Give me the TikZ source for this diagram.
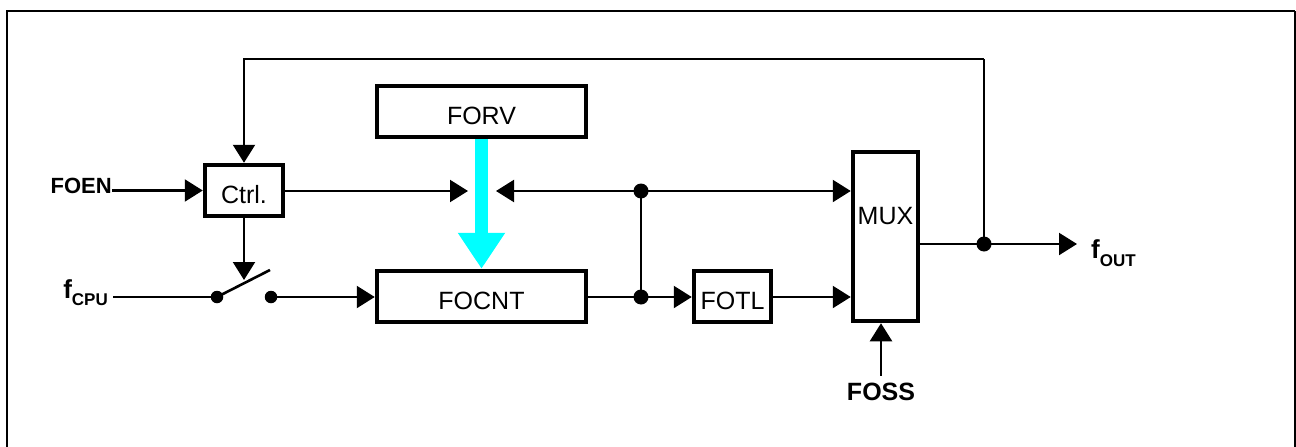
\documentclass[tikz,border=0pt]{standalone}
\usepackage{fontspec}
\setmainfont{Liberation Sans}
\usetikzlibrary{arrows.meta}
\definecolor{busc}{RGB}{0,255,255}
\begin{document}
\begin{tikzpicture}[x=1pt,y=-1pt,
  box/.style={draw, line width=4.5pt, inner sep=0pt, text height=26pt, text depth=0pt,
    font=\fontsize{25}{30}\selectfont},
  wire/.style={line width=2.2pt},
  arr/.style={wire, -{Triangle[length=18pt,width=22pt]}},
  jdot/.style={circle, fill, inner sep=0pt, minimum size=15pt},
  swdot/.style={circle, fill, inner sep=0pt, minimum size=12.5pt},
  lbl/.style={inner sep=0pt, font=\bfseries\fontsize{22}{26}\selectfont},
  boxtxt/.style={inner sep=0pt, font=\fontsize{25}{30}\selectfont}]
\useasboundingbox (0,0) rectangle (1296,447);
% frame
\draw[line width=2.5pt] (7,447) -- (7,11) -- (1295,11);
\draw[line width=1.5pt] (1295,11) -- (1295,447);
% blocks
\node[box, minimum width=78pt, minimum height=51pt] (ctrl) at (244,190.5) {Ctrl.};
\node[box, minimum width=209pt, minimum height=51pt] (forv) at (481.5,111.5) {FORV};
\node[box, minimum width=209pt, minimum height=51pt] (focnt) at (481.5,296.5) {FOCNT};
\node[box, minimum width=77pt, minimum height=51pt] (fotl) at (732.5,296.5) {FOTL};
\node[box, minimum width=65pt, minimum height=169pt] (mux) at (885.5,236.5) {};
\node[boxtxt] (muxlbl) at (885.5,216) {MUX};
% labels
\node[lbl, anchor=base east] (foen) at (112,193) {FOEN};
\node[inner sep=0pt, anchor=base east] (fcpu) at (108,298)
  {\bfseries\fontsize{26}{30}\selectfont f\raisebox{-7pt}{\fontsize{17}{20}\selectfont CPU}};
\node[inner sep=0pt, anchor=base west] (fout) at (1091,258)
  {\bfseries\fontsize{26}{30}\selectfont f\raisebox{-8pt}{\fontsize{17}{20}\selectfont OUT}};
\node[inner sep=0pt, outer ysep=7pt, anchor=base, font=\bfseries\fontsize{25}{30}\selectfont] (foss) at (881,400) {FOSS};
% junctions and switch contacts
\node[jdot] (j1) at (641,191) {};
\node[jdot] (j2) at (641,297) {};
\node[jdot] (j3) at (984,244) {};
\node[swdot] (swL) at (217,297) {};
\node[swdot] (swR) at (271,297) {};
\coordinate (swtip) at (244,280);
\coordinate (swend) at (270,270);
\coordinate (tipA) at (468,191);
\coordinate (tipB) at (496,191);
\coordinate (outtip) at (1077,244);
\coordinate (fbR) at (984,59);
\coordinate (fbL) at (244,59);
\coordinate (cpuin) at (113,297);
% wires
\draw[arr] (foen.east |- ctrl.west) -- (ctrl.west);
\draw[arr] (fbR) -- (fbL) -- (ctrl.north);
\draw[wire] (j3.center) -- (fbR);
\draw[arr] (ctrl.east |- tipA) -- (tipA);
\draw[arr] (j1.center) -- (tipB);
\draw[arr] (j1.center) -- (mux.west |- j1);
\draw[wire] (j1.center) -- (j2.center);
\draw[arr] (ctrl.south) -- (swtip);
\draw[wire] (cpuin) -- (swL.center);
\draw[wire, line width=2.6pt] (swL.center) -- (swend);
\draw[arr] (swR.center) -- (focnt.west |- swR);
\draw[wire] (focnt.east |- j2) -- (j2.center);
\draw[arr] (j2.center) -- (fotl.west |- j2);
\draw[arr] (fotl.east |- j2) -- (mux.west |- j2);
\draw[wire] (mux.east |- j3) -- (j3.center);
\draw[arr] (j3.center) -- (outtip);
\draw[arr] (foss.north) -- (mux.south -| foss.north);
% FORV bus arrow
\draw[busc, line width=13pt, -{Triangle[length=36pt,width=45pt]}] (forv.south) -- (focnt.north);
\end{tikzpicture}
\end{document}
